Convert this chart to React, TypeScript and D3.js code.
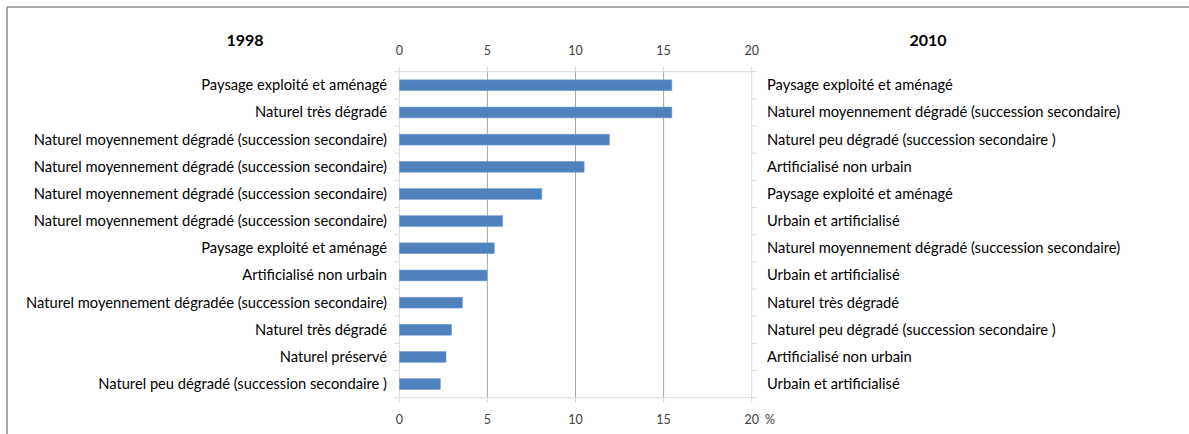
import React from "react";
import * as d3 from "d3";

const labels1998 = [
  "Paysage exploité et aménagé",
  "Naturel très dégradé",
  "Naturel moyennement dégradé (succession secondaire)",
  "Naturel moyennement dégradé (succession secondaire)",
  "Naturel moyennement dégradé (succession secondaire)",
  "Naturel moyennement dégradé (succession secondaire)",
  "Paysage exploité et aménagé",
  "Artificialisé non urbain",
  "Naturel moyennement dégradée (succession secondaire)",
  "Naturel très dégradé",
  "Naturel préservé",
  "Naturel peu dégradé (succession secondaire )",
];

const labels2010 = [
  "Paysage exploité et aménagé",
  "Naturel moyennement dégradé (succession secondaire)",
  "Naturel peu dégradé (succession secondaire )",
  "Artificialisé non urbain",
  "Paysage exploité et aménagé",
  "Urbain et artificialisé",
  "Naturel moyennement dégradé (succession secondaire)",
  "Urbain et artificialisé",
  "Naturel très dégradé",
  "Naturel peu dégradé (succession secondaire )",
  "Artificialisé non urbain",
  "Urbain et artificialisé",
];

const values = [15.47, 15.47, 11.93, 10.49, 8.09, 5.87, 5.39, 4.98, 3.58, 2.97, 2.65, 2.33];
const xTicks = [0, 5, 10, 15, 20];

const W = 1189;
const H = 434;
const left = 399.3;
const right = 751.7;
const top = 71.7;
const bottom = 397.7;

export default function App() {
  const idx = values.map((_, i) => i);
  const x = d3.scaleLinear().domain([0, 20]).range([left, right]);
  const y = d3.scaleBand<number>().domain(idx).range([top, bottom]).paddingInner(0.6).paddingOuter(0.3);
  const yb = d3.scaleBand<number>().domain(idx).range([top, bottom]);
  const font = "Lato, 'Noto Sans', sans-serif";
  const axisGray = "#d9d9d9";
  const gridGray = "#a6a6a6";
  return (
    <svg width={W} height={H} style={{ position: "absolute", left: 0, top: 0 }} fontFamily={font}>
      <rect x={0} y={0} width={W} height={H} fill="#fff" />
      {/* frame */}
      <line x1={7} y1={7} x2={W} y2={7} stroke="#8c8c8c" strokeWidth={1.5} />
      <line x1={7} y1={7} x2={7} y2={H} stroke="#8c8c8c" strokeWidth={1.5} />
      {/* titles */}
      <text x={245} y={46} textAnchor="middle" fontWeight="bold" fontSize={16} fill="#000">1998</text>
      <text x={928} y={46} textAnchor="middle" fontWeight="bold" fontSize={16} fill="#000">2010</text>
      {/* gridlines */}
      {xTicks.slice(1, 4).map((t) => (
        <line key={"g" + t} x1={x(t)} x2={x(t)} y1={top} y2={bottom} stroke={gridGray} strokeWidth={1} />
      ))}
      {/* top and bottom axis lines */}
      <line x1={left - 5} x2={right + 5} y1={top} y2={top} stroke={axisGray} strokeWidth={1} />
      <line x1={left - 5} x2={right + 5} y1={bottom} y2={bottom} stroke={axisGray} strokeWidth={1} />
      {/* left & right axis lines */}
      <line x1={left} x2={left} y1={top - 5} y2={bottom + 5} stroke={axisGray} strokeWidth={1} />
      <line x1={right} x2={right} y1={top - 5} y2={bottom + 5} stroke={axisGray} strokeWidth={1} />
      {xTicks.slice(1, 4).map((t) => (
        <g key={"tk" + t}>
          <line x1={x(t)} x2={x(t)} y1={top - 5} y2={top} stroke={axisGray} />
          <line x1={x(t)} x2={x(t)} y1={bottom} y2={bottom + 5} stroke={axisGray} />
        </g>
      ))}
      {idx.slice(1).map((i) => (
        <g key={"ct" + i}>
          <line x1={left - 5} x2={left} y1={yb(i)!} y2={yb(i)!} stroke={axisGray} />
          <line x1={right} x2={right + 5} y1={yb(i)!} y2={yb(i)!} stroke={axisGray} />
        </g>
      ))}
      {/* bars */}
      {values.map((v, i) => (
        <rect
          key={"b" + i}
          x={x(0)}
          y={y(i)!}
          width={x(v) - x(0)}
          height={y.bandwidth()}
          fill="#4f81bd"
          stroke="#7ea3d2"
          strokeWidth={0.6}
        />
      ))}
      {/* tick labels */}
      {xTicks.map((t) => (
        <text key={"tt" + t} x={x(t)} y={55} textAnchor="middle" fontSize={12.5} fill="#404040">{t}</text>
      ))}
      {xTicks.map((t) => (
        <text key={"tb" + t} x={x(t)} y={424} textAnchor="middle" fontSize={12.5} fill="#404040">{t}</text>
      ))}
      <text x={765} y={424} fontSize={12.5} fill="#404040">%</text>
      {/* category labels */}
      {labels1998.map((l, i) => (
        <text key={"l" + i} x={387} y={yb(i)! + yb.bandwidth() / 2 + 5} textAnchor="end" fontSize={14.7} fill="#000">{l}</text>
      ))}
      {labels2010.map((l, i) => (
        <text key={"r" + i} x={767} y={yb(i)! + yb.bandwidth() / 2 + 5} textAnchor="start" fontSize={14.7} fill="#000">{l}</text>
      ))}
    </svg>
  );
}
